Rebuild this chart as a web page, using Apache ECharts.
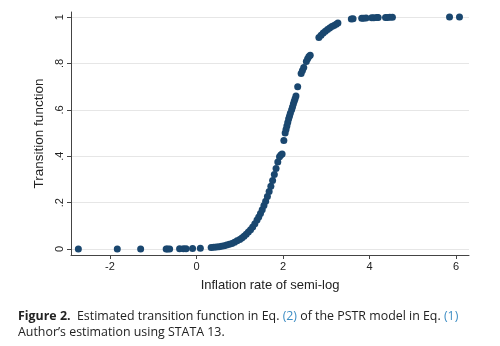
<!DOCTYPE html>
<html>
<head>
<meta charset="utf-8">
<script src="https://cdn.jsdelivr.net/npm/echarts@6/dist/echarts.min.js"></script>
<style>
  html, body { margin: 0; padding: 0; background: #fff; }
  #chart { width: 500px; height: 346px; }
</style>
</head>
<body>
<div id="chart"></div>
<script>
// x = inflation rate of semi-log, y = transition function
var inflationX = [
  -2.73, -1.83, -1.29, -0.70, -0.67, -0.62, -0.39, -0.30, -0.24, -0.09, 0.09,
  0.34, 0.40, 0.46, 0.52, 0.58, 0.64, 0.70, 0.76, 0.82, 0.88, 0.94, 1.00,
  1.05, 1.10, 1.15, 1.20, 1.25, 1.30, 1.35, 1.40, 1.44, 1.48, 1.52, 1.56,
  1.60, 1.64, 1.68, 1.72, 1.76, 1.80, 1.84, 1.88, 1.92, 1.95, 1.98,
  2.02, 2.05, 2.07, 2.09, 2.11, 2.13, 2.15, 2.17,
  2.20, 2.22, 2.24, 2.26, 2.28, 2.30, 2.34,
  2.42, 2.45, 2.48, 2.54, 2.57, 2.60, 2.63,
  2.83, 2.88, 2.93, 2.98, 3.03, 3.08, 3.13, 3.18, 3.23, 3.27,
  3.58, 3.62, 3.82, 3.86, 3.92, 4.05, 4.10, 4.17, 4.20, 4.37, 4.41, 4.47, 4.53,
  5.85, 6.08
]
var transitionY = [
  0.000, 0.000, 0.000, 0.000, 0.000, 0.000, 0.001, 0.001, 0.001, 0.002, 0.003,
  0.006, 0.007, 0.008, 0.010, 0.012, 0.014, 0.017, 0.020, 0.024, 0.029, 0.035, 0.041,
  0.047, 0.055, 0.063, 0.073, 0.083, 0.095, 0.109, 0.125, 0.138, 0.153, 0.169, 0.187,
  0.206, 0.226, 0.248, 0.271, 0.295, 0.321, 0.347, 0.375, 0.398, 0.405, 0.410,
  0.468, 0.500, 0.515, 0.530, 0.545, 0.560, 0.572, 0.585,
  0.600, 0.612, 0.625, 0.637, 0.648, 0.660, 0.700,
  0.757, 0.770, 0.783, 0.808, 0.820, 0.830, 0.836,
  0.912, 0.922, 0.931, 0.939, 0.946, 0.953, 0.959, 0.964, 0.969, 0.975,
  0.992, 0.993, 0.995, 0.995, 0.996, 0.997, 0.997, 0.998, 0.998, 0.998, 0.998, 0.999, 0.999,
  1.000, 1.000
]
var xTicks = [-2, 0, 2, 4, 6]
var yTicks = [0, 0.2, 0.4, 0.6, 0.8, 1]
var yTickLabels = ['0', '.2', '.4', '.6', '.8', '1']

var points = inflationX.map(function (x, i) { return [x, transitionY[i]] })

var chart = echarts.init(document.getElementById('chart'))

chart.setOption({
  backgroundColor: '#fff',
  animation: false,
  grid: {
    left: 71,
    right: 31,
    top: 12,
    bottom: 91
  },
  xAxis: {
    type: 'value',
    min: -2.9,
    max: 6.3,
    name: 'Inflation rate of semi-log',
    nameLocation: 'middle',
    nameGap: 24,
    nameTextStyle: { fontFamily: 'Liberation Sans', fontSize: 13, color: '#222' },
    axisLine: { show: true, onZero: false, lineStyle: { color: '#444', width: 1 } },
    axisTick: { show: true, customValues: xTicks, length: 4, lineStyle: { color: '#444' } },
    axisLabel: {
      customValues: xTicks,
      fontFamily: 'Liberation Sans',
      fontSize: 11,
      color: '#222',
      margin: 6,
      formatter: function (v) { return String(v) }
    },
    splitLine: { show: false }
  },
  yAxis: {
    type: 'value',
    min: -0.026,
    max: 1.022,
    name: 'Transition function',
    nameLocation: 'middle',
    nameGap: 18,
    nameRotate: 90,
    nameTextStyle: { fontFamily: 'Liberation Sans', fontSize: 13.5, color: '#222' },
    axisLine: { show: true, onZero: false, lineStyle: { color: '#444', width: 1 } },
    axisTick: { show: true, customValues: yTicks, length: 4, lineStyle: { color: '#444' } },
    axisLabel: {
      customValues: yTicks,
      rotate: 90,
      fontFamily: 'Liberation Sans',
      fontSize: 11,
      color: '#222',
      margin: 6,
      formatter: function (v) {
        var i = yTicks.findIndex(function (t) { return Math.abs(t - v) < 1e-6 })
        return i >= 0 ? yTickLabels[i] : ''
      }
    },
    splitLine: { show: true, lineStyle: { color: '#e6e6e6', width: 1 } }
  },
  series: [{
    type: 'scatter',
    data: points,
    symbol: 'circle',
    symbolSize: 7,
    itemStyle: { color: '#1a476f', opacity: 1 }
  }],
  graphic: [{
    type: 'text',
    left: 18,
    top: 310,
    style: {
      text: '{b|Figure 2.}  Estimated transition function in Eq. {c|(2)} of the PSTR model in Eq. {c|(1)}',
      fontFamily: 'Open Sans',
      fontSize: 12.4,
      fill: '#222',
      rich: {
        b: { fontFamily: 'Open Sans', fontSize: 12.4, fontWeight: 'bold', fill: '#222' },
        c: { fontFamily: 'Open Sans', fontSize: 12.4, fill: '#3d8dc4' }
      }
    }
  }, {
    type: 'text',
    left: 18,
    top: 326,
    style: {
      text: 'Author\u2019s estimation using STATA 13.',
      fontFamily: 'Open Sans',
      fontSize: 12.4,
      fill: '#222'
    }
  }]
})
</script>
</body>
</html>
